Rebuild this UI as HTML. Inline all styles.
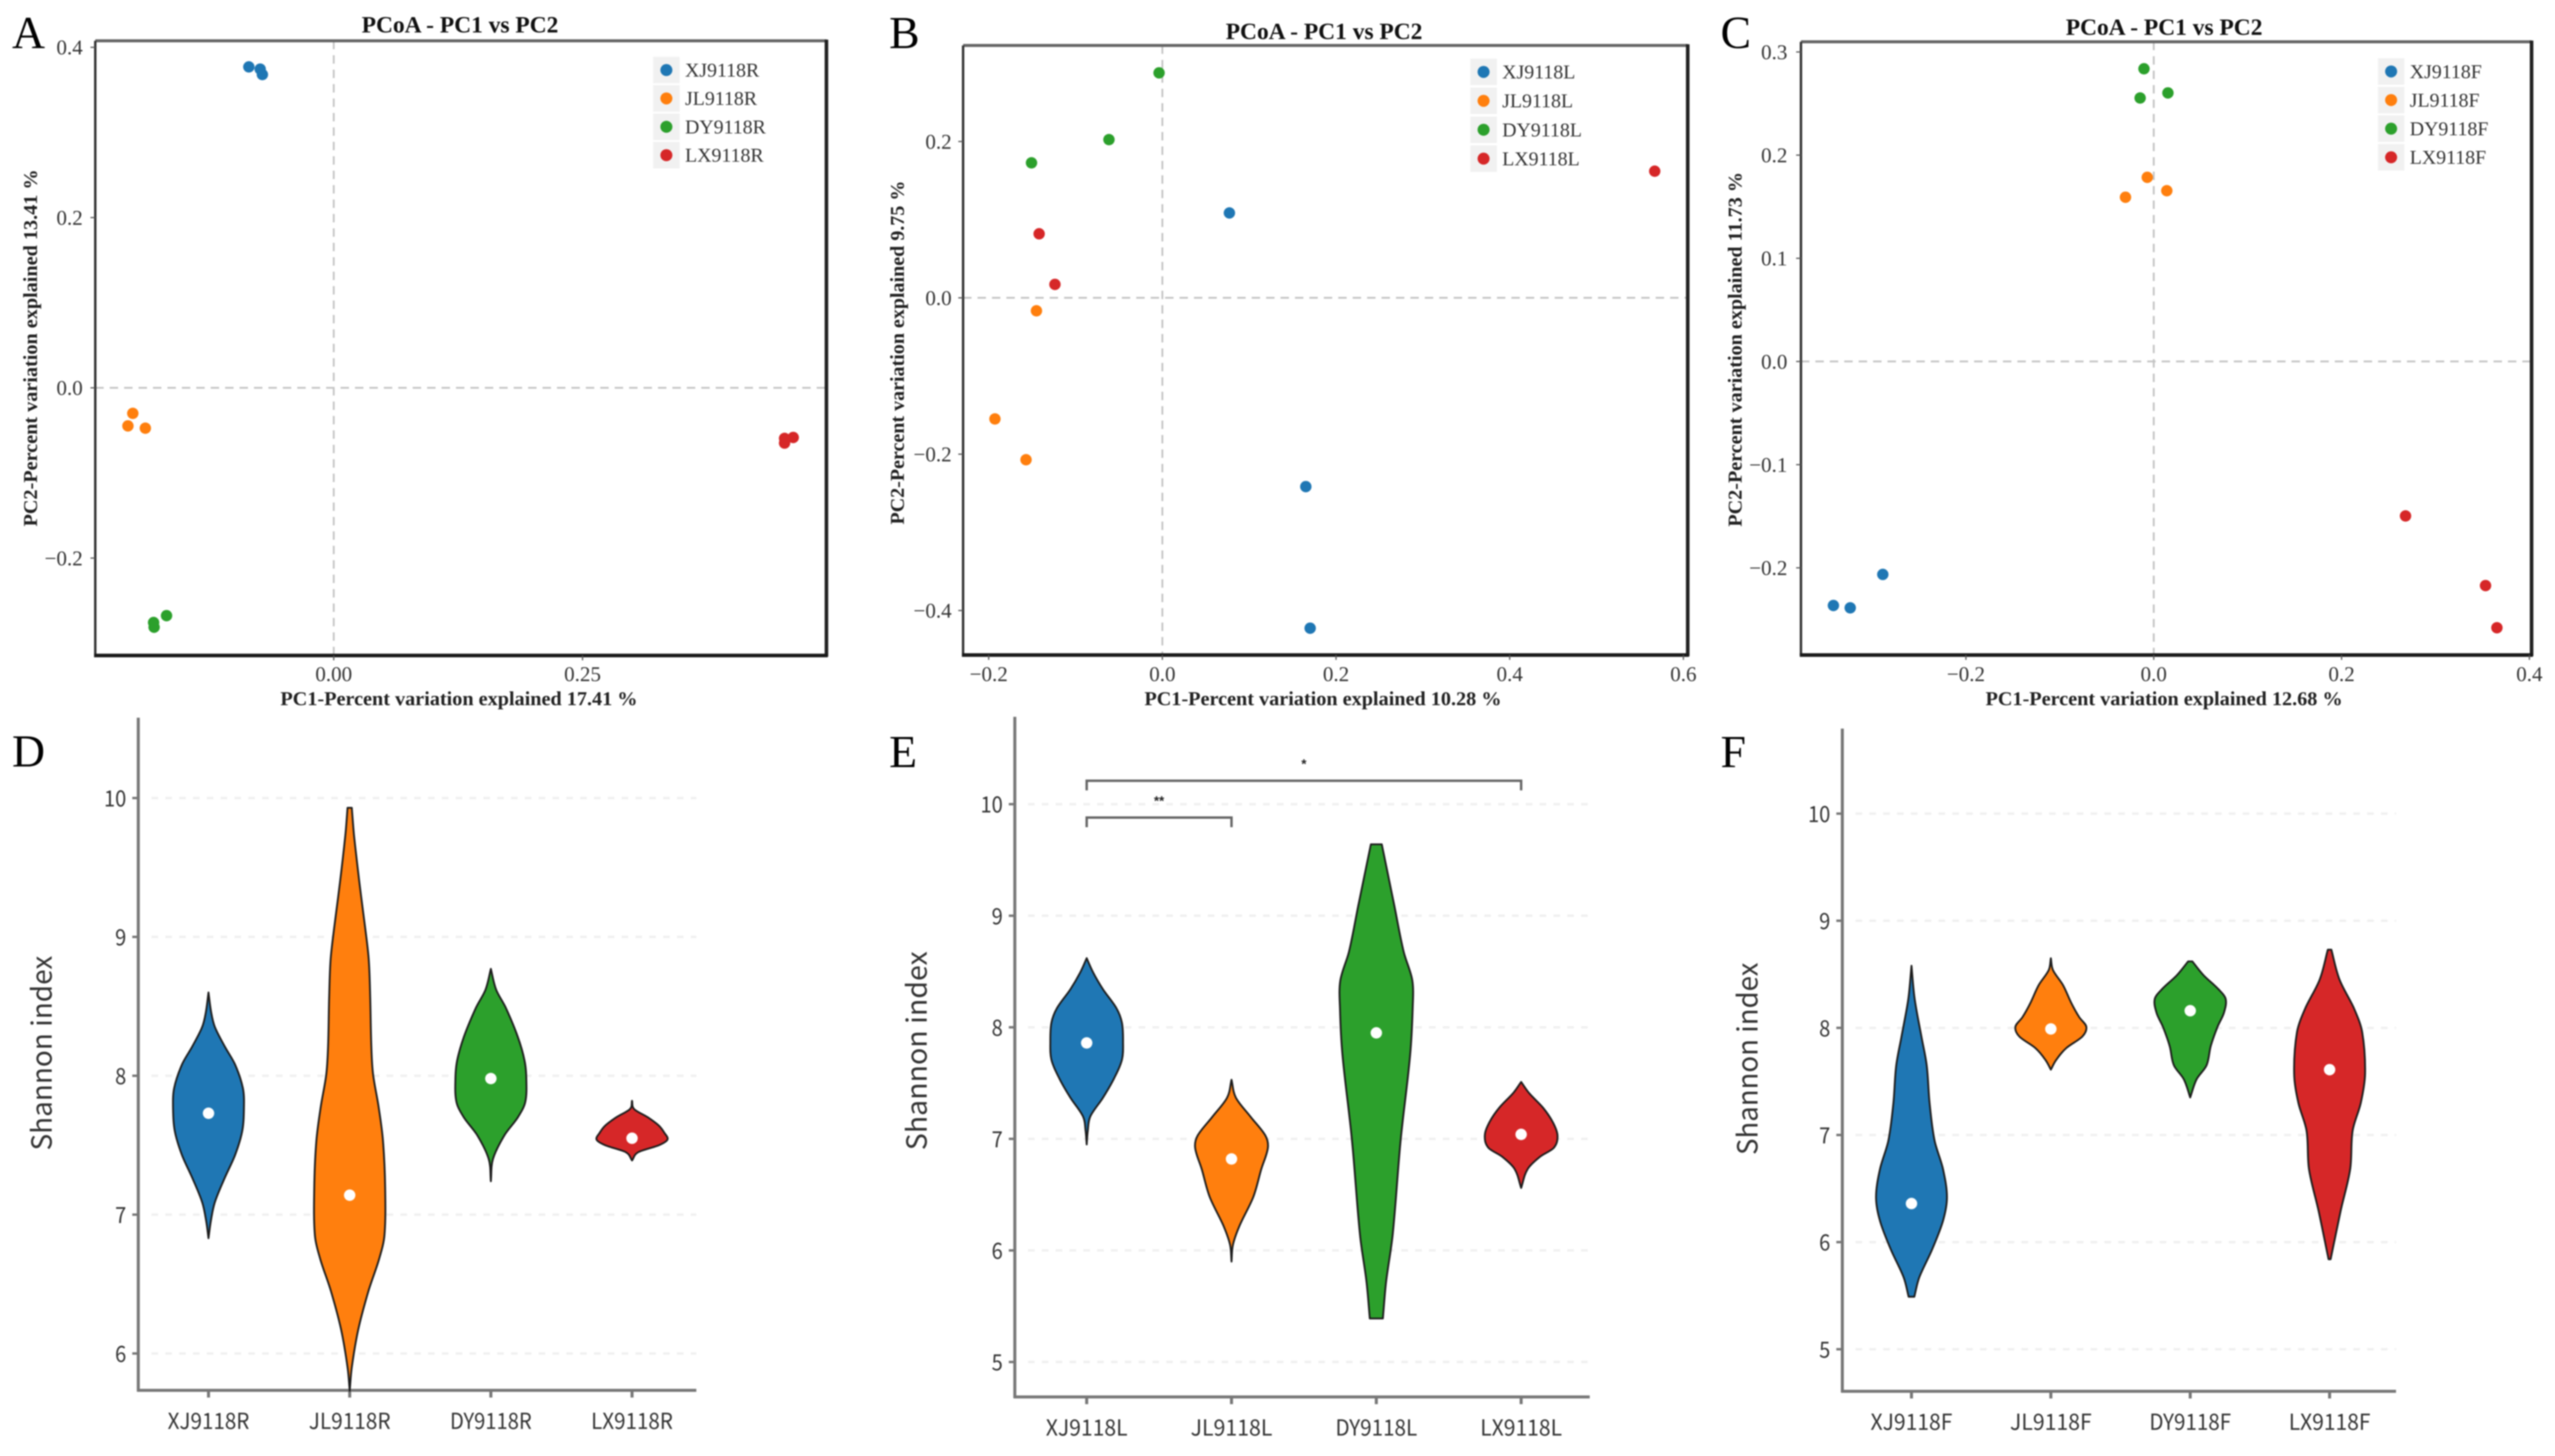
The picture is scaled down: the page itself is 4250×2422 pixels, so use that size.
<!DOCTYPE html>
<html lang="en">
<head>
<meta charset="utf-8">
<title>PCoA and Shannon index panels</title>
<style>
html,body{margin:0;padding:0;background:#fff;}
body{width:4250px;height:2422px;overflow:hidden;}
svg{display:block;}
.serif{font-family:"Liberation Serif","Noto Serif CJK SC",serif;}
.sans{font-family:"Liberation Sans","Noto Sans CJK SC",sans-serif;}
.cjk{font-family:"Noto Sans CJK SC","Liberation Sans",sans-serif;}
</style>
</head>
<body>
<svg id="figure" xmlns="http://www.w3.org/2000/svg" width="4250" height="2422" viewBox="0 0 4250 2422" style="filter:blur(1.1px)">
<rect x="0" y="0" width="4250" height="2422" fill="#ffffff"/>
<text class="serif" x="20" y="80" font-size="76" fill="#000">A</text>
<text class="serif" x="1479" y="80" font-size="76" fill="#000">B</text>
<text class="serif" x="2862" y="80" font-size="76" fill="#000">C</text>
<text class="serif" x="20" y="1275" font-size="76" fill="#000">D</text>
<text class="serif" x="1479" y="1276" font-size="76" fill="#000">E</text>
<text class="serif" x="2862" y="1276" font-size="76" fill="#000">F</text>
<g id="panel-a"></g>
<g id="panel-b"></g>
<g id="panel-c"></g>
<g id="panel-d"></g>
<g id="panel-e"></g>
<g id="panel-f"></g>
</svg>
<script>
// ---------- Chart data ----------
const seriesColors = ['#1f77b4', '#ff7f0e', '#2ca02c', '#d62728'];

// Panel A
const groupsA = ['XJ9118R', 'JL9118R', 'DY9118R', 'LX9118R'];
const pc1A = [[-0.0853, -0.0739, -0.0717], [-0.2019, -0.2068, -0.1893], [-0.168, -0.181, -0.1805], [0.453, 0.453, 0.4617]];
const pc2A = [[0.377, 0.3744, 0.368], [-0.030, -0.0447, -0.0474], [-0.2676, -0.2757, -0.2812], [-0.0594, -0.0649, -0.0583]];
const xTicksA = [0, 0.25];
const xTickLabelsA = ['0.00', '0.25'];
const yTicksA = [0.4, 0.2, 0, -0.2];
const yTickLabelsA = ['0.4', '0.2', '0.0', '−0.2'];

// Panel B
const groupsB = ['XJ9118L', 'JL9118L', 'DY9118L', 'LX9118L'];
const pc1B = [[0.0772, 0.1652, 0.1702], [-0.145, -0.1928, -0.157], [-0.0038, -0.0615, -0.1507], [-0.1419, -0.1237, 0.567]];
const pc2B = [[0.1086, -0.2415, -0.4226], [-0.0166, -0.1549, -0.2071], [0.2878, 0.2024, 0.1727], [0.0819, 0.0172, 0.1620]];
const xTicksB = [-0.2, 0, 0.2, 0.4, 0.6];
const xTickLabelsB = ['−0.2', '0.0', '0.2', '0.4', '0.6'];
const yTicksB = [0.2, 0, -0.2, -0.4];
const yTickLabelsB = ['0.2', '0.0', '−0.2', '−0.4'];

// Panel C
const groupsC = ['XJ9118F', 'JL9118F', 'DY9118F', 'LX9118F'];
const pc1C = [[-0.3411, -0.3232, -0.2885], [-0.0301, -0.0069, 0.0139], [-0.0104, -0.0145, 0.0151], [0.2681, 0.3533, 0.3654]];
const pc2C = [[-0.2365, -0.2388, -0.2064], [0.1592, 0.1785, 0.1655], [0.2837, 0.2554, 0.2603], [-0.1497, -0.2172, -0.2581]];
const xTicksC = [-0.2, 0, 0.2, 0.4];
const xTickLabelsC = ['−0.2', '0.0', '0.2', '0.4'];
const yTicksC = [0.3, 0.2, 0.1, 0, -0.1, -0.2];
const yTickLabelsC = ['0.3', '0.2', '0.1', '0.0', '−0.1', '−0.2'];

// Panel D violins: index levels and relative density per group
const levelsD = [
  [8.60, 8.45, 8.35, 8.21, 8.08, 7.91, 7.77, 7.60, 7.43, 7.26, 7.09, 6.96, 6.83],
  [9.93, 9.74, 9.40, 9.06, 8.83, 8.55, 8.21, 8.01, 7.77, 7.53, 7.19, 6.85, 6.68, 6.45, 6.17, 5.90, 5.73],
  [8.77, 8.62, 8.49, 8.28, 8.11, 7.98, 7.81, 7.70, 7.57, 7.40, 7.24],
  [7.82, 7.76, 7.70, 7.64, 7.59, 7.54, 7.50, 7.45, 7.39]
];
const densityD = [
  [0, .08, .18, .46, .75, .97, 1, .95, .75, .45, .18, .07, 0],
  [.06, .12, .27, .44, .54, .58, .61, .66, .82, .94, 1, .98, .83, .53, .24, .06, 0],
  [0, .15, .42, .76, .95, 1, .97, .76, .38, .06, 0],
  [0, .06, .45, .76, .91, 1, .76, .18, 0]
];
const mediansD = [7.73, 7.14, 7.98, 7.55];
const yTicksD = [10, 9, 8, 7, 6];

// Panel E violins
const levelsE = [
  [8.62, 8.49, 8.34, 8.17, 8.04, 7.87, 7.71, 7.54, 7.37, 7.20, 7.07, 6.95],
  [7.53, 7.37, 7.20, 7.03, 6.92, 6.73, 6.48, 6.22, 6.05, 5.90],
  [9.64, 9.10, 8.68, 8.42, 8.17, 7.75, 6.99, 6.14, 5.72, 5.39],
  [7.51, 7.41, 7.28, 7.15, 7.03, 6.92, 6.84, 6.73, 6.56]
];
const densityE = [
  [0, .18, .45, .82, .97, 1, .97, .75, .45, .10, .03, 0],
  [0, .12, .52, .93, 1, .82, .6, .22, .04, 0],
  [.15, .49, .75, .99, 1, .93, .67, .45, .27, .18],
  [0, .22, .6, .87, 1, .9, .52, .18, 0]
];
const mediansE = [7.86, 6.82, 7.95, 7.04];
const yTicksE = [10, 9, 8, 7, 6, 5];
const sigPairsE = [[0, 3], [0, 1]];
const sigHeightsE = [10.21, 9.88];
const sigLabelsE = ['*', '**'];

// Panel F violins
const levelsF = [
  [8.58, 8.27, 7.92, 7.65, 7.30, 6.95, 6.68, 6.42, 6.20, 5.93, 5.67, 5.49],
  [8.65, 8.54, 8.40, 8.23, 8.10, 8.01, 7.92, 7.81, 7.70, 7.61],
  [8.62, 8.49, 8.36, 8.27, 8.14, 8.01, 7.83, 7.65, 7.52, 7.35],
  [8.73, 8.45, 8.18, 7.96, 7.57, 7.30, 7.04, 6.68, 6.29, 5.84]
];
const densityF = [
  [0, .09, .28, .43, .51, .65, .89, 1, .89, .58, .22, .08],
  [0, .06, .34, .58, .8, 1, .89, .43, .15, 0],
  [.06, .38, .8, 1, .95, .77, .58, .46, .18, 0],
  [.05, .28, .69, .92, 1, .88, .65, .58, .31, .03]
];
const mediansF = [6.36, 7.99, 8.16, 7.61];
const yTicksF = [10, 9, 8, 7, 6, 5];

// ---------- Drawing helpers ----------
const SVGNS = 'http://www.w3.org/2000/svg';
function el(parent, tag, attrs, text) {
  const n = document.createElementNS(SVGNS, tag);
  for (const k in attrs) n.setAttribute(k, attrs[k]);
  if (text !== undefined) n.textContent = text;
  parent.appendChild(n);
  return n;
}
function linear(v0, p0, v1, p1) {
  return v => p0 + (v - v0) * (p1 - p0) / (v1 - v0);
}
// Hermite spline over y so that uneven level spacing stays smooth
function smoothPath(pts) {
  const slope = i => {
    const a = pts[Math.max(i - 1, 0)], b = pts[Math.min(i + 1, pts.length - 1)];
    return (b[0] - a[0]) / (b[1] - a[1]);
  };
  let d = '';
  for (let i = 0; i < pts.length - 1; i++) {
    const p1 = pts[i], p2 = pts[i + 1];
    const h = (p2[1] - p1[1]) / 3;
    const c1x = p1[0] + slope(i) * h, c1y = p1[1] + h;
    const c2x = p2[0] - slope(i + 1) * h, c2y = p2[1] - h;
    d += ' C' + c1x.toFixed(1) + ' ' + c1y.toFixed(1) + ' ' + c2x.toFixed(1) + ' ' + c2y.toFixed(1) + ' ' + p2[0].toFixed(1) + ' ' + p2[1].toFixed(1);
  }
  return d;
}

// ---------- PCoA scatter panels ----------
function drawScatter(cfg) {
  const g = document.getElementById(cfg.id);
  const x = linear(cfg.xA[0], cfg.xA[1], cfg.xB[0], cfg.xB[1]);
  const y = linear(cfg.yA[0], cfg.yA[1], cfg.yB[0], cfg.yB[1]);
  const f = cfg.frame;

  const vz = el(g, 'line', {x1: x(0), x2: x(0), y1: f.t, y2: f.b, stroke: '#c4c4c4', 'stroke-width': 3, 'stroke-dasharray': '14 10'});
  
  
  const hz = el(g, 'line', {x1: f.l, x2: f.r, y1: y(0), y2: y(0), stroke: '#c4c4c4', 'stroke-width': 3, 'stroke-dasharray': '14 10'});
  
  

  const top = el(g, 'line', {x1: f.l, x2: f.r, y1: f.t, y2: f.t, stroke: '#666', 'stroke-width': 5});
  
  
  const left = el(g, 'line', {x1: f.l, x2: f.l, y1: f.t, y2: f.b, stroke: '#333', 'stroke-width': 4});
  
  
  const right = el(g, 'line', {x1: f.r, x2: f.r, y1: f.t - 2, y2: f.b + 2, stroke: '#222', 'stroke-width': 6});
  
  
  const bottom = el(g, 'line', {x1: f.l - 2, x2: f.r + 2, y1: f.b, y2: f.b, stroke: '#1a1a1a', 'stroke-width': 6});
  
  

  cfg.xTicks.forEach((v, i) => {
    const t = el(g, 'line', {x1: x(v), x2: x(v), y1: f.b, y2: f.b + 8, stroke: '#555', 'stroke-width': 2});
    
    
    const l = el(g, 'text', {x: x(v), y: cfg.xTickY, 'text-anchor': 'middle', 'font-size': 35, fill: '#333', class: 'serif'}, cfg.xTickLabels[i]);
    
    
  });
  cfg.yTicks.forEach((v, i) => {
    const t = el(g, 'line', {x1: f.l - 8, x2: f.l, y1: y(v), y2: y(v), stroke: '#555', 'stroke-width': 2});
    
    
    const l = el(g, 'text', {x: cfg.yTickX, y: y(v) + 12, 'text-anchor': 'end', 'font-size': 35, fill: '#333', class: 'serif'}, cfg.yTickLabels[i]);
    
    
  });

  const title = el(g, 'text', {x: cfg.titleX, y: cfg.titleY, 'text-anchor': 'middle', 'font-size': 39, 'font-weight': 'bold', fill: '#111', class: 'serif'}, 'PCoA - PC1 vs PC2');
  
  
  const xt = el(g, 'text', {x: cfg.xLabelX, y: cfg.xLabelY, 'text-anchor': 'middle', 'font-size': 33, 'font-weight': 'bold', fill: '#222', class: 'serif', textLength: 594, lengthAdjust: 'spacingAndGlyphs'}, cfg.xLabel);
  
  
  const yt = el(g, 'text', {x: 0, y: 0, transform: 'translate(' + cfg.yLabelX + ' ' + cfg.yLabelY + ') rotate(-90)', 'text-anchor': 'middle', 'font-size': 33, 'font-weight': 'bold', fill: '#222', class: 'serif', textLength: cfg.yLabelLen, lengthAdjust: 'spacingAndGlyphs'}, cfg.yLabel);
  
  

  cfg.pc1.forEach((xs, s) => {
    xs.forEach((v, i) => {
      const c = el(g, 'circle', {cx: x(v), cy: y(cfg.pc2[s][i]), r: 9.5, fill: seriesColors[s]});
      
      
    });
  });

  cfg.groups.forEach((name, s) => {
    const ly = cfg.legY + s * cfg.legStep;
    const entry = el(g, 'g', {});
    
    
    const box = el(entry, 'rect', {x: cfg.legX - 22, y: ly - 22, width: 44, height: 44, fill: '#f1f1f1'});
    
    
    const dot = el(entry, 'circle', {cx: cfg.legX, cy: ly, r: 10, fill: seriesColors[s]});
    
    
    const tx = el(entry, 'text', {x: cfg.legX + 31, y: ly + 11, 'font-size': 33, fill: '#333', class: 'serif'}, name);
    
    
  });
}

const KX = 0.9056, KYT = 0.7717, KYB = 0.7857;
function ax(ox, z) { return ox + z * KX; }
function at(z) { return z * KYT; }
function ab(z) { return 1190 + z * KYB; }

drawScatter({
  id: 'panel-a', groups: groupsA, pc1: pc1A, pc2: pc2A,
  xTicks: xTicksA, xTickLabels: xTickLabelsA, yTicks: yTicksA, yTickLabels: yTickLabelsA,
  xA: [0, ax(0, 613)], xB: [0.25, ax(0, 1070)], yA: [0, at(836)], yB: [0.2, at(469)],
  frame: {l: ax(0, 175), r: ax(0, 1518), t: at(88), b: at(1413)},
  xTickY: at(1468), yTickX: ax(0, 152),
  titleX: ax(0, 845), titleY: at(70),
  xLabel: 'PC1-Percent variation explained 17.41 %', xLabelX: ax(0, 843), xLabelY: at(1520),
  yLabel: 'PC2-Percent variation explained 13.41 %', yLabelX: ax(0, 68), yLabelY: at(750), yLabelLen: 594,
  legX: ax(0, 1224), legY: at(151), legStep: 47.2
});
drawScatter({
  id: 'panel-b', groups: groupsB, pc1: pc1B, pc2: pc2B,
  xTicks: xTicksB, xTickLabels: xTickLabelsB, yTicks: yTicksB, yTickLabels: yTickLabelsB,
  xA: [0, ax(1420, 567)], xB: [0.2, ax(1420, 886)], yA: [0, at(642)], yB: [0.2, at(305)],
  frame: {l: ax(1420, 201), r: ax(1420, 1532), t: at(98), b: at(1412)},
  xTickY: at(1468), yTickX: ax(1420, 180),
  titleX: ax(1420, 864), titleY: at(84),
  xLabel: 'PC1-Percent variation explained 10.28 %', xLabelX: ax(1420, 862), xLabelY: at(1520),
  yLabel: 'PC2-Percent variation explained 9.75 %', yLabelX: ax(1420, 92), yLabelY: at(760), yLabelLen: 572,
  legX: ax(1420, 1157), legY: at(155), legStep: 48.1
});
drawScatter({
  id: 'panel-c', groups: groupsC, pc1: pc1C, pc2: pc2C,
  xTicks: xTicksC, xTickLabels: xTickLabelsC, yTicks: yTicksC, yTickLabels: yTickLabelsC,
  xA: [0, ax(2830, 831)], xB: [0.4, ax(2830, 1521)], yA: [0.3, at(112)], yB: [-0.2, at(1224)],
  frame: {l: ax(2830, 183), r: ax(2830, 1525), t: at(90), b: at(1412)},
  xTickY: at(1468), yTickX: ax(2830, 158),
  titleX: ax(2830, 850), titleY: at(75),
  xLabel: 'PC1-Percent variation explained 12.68 %', xLabelX: ax(2830, 850), xLabelY: at(1520),
  yLabel: 'PC2-Percent variation explained 11.73 %', yLabelX: ax(2830, 74), yLabelY: at(753), yLabelLen: 590,
  legX: ax(2830, 1267), legY: at(154), legStep: 47.6
});

// ---------- Shannon violin panels ----------
function drawViolins(cfg) {
  const g = document.getElementById(cfg.id);
  const x = i => cfg.x0 + i * cfg.xStep;
  const y = linear(cfg.yA[0], cfg.yA[1], cfg.yB[0], cfg.yB[1]);

  cfg.yTicks.forEach(v => {
    const gl = el(g, 'line', {x1: cfg.axisX + 22, x2: cfg.right, y1: y(v), y2: y(v), stroke: '#f0f0f0', 'stroke-width': 4, 'stroke-dasharray': '11 12'});
    
    
    const t = el(g, 'line', {x1: cfg.axisX - 10, x2: cfg.axisX, y1: y(v), y2: y(v), stroke: '#777', 'stroke-width': 4});
    
    
    const l = el(g, 'text', {x: cfg.axisX - 20, y: y(v) + 14, 'text-anchor': 'end', 'font-size': 37, fill: '#333', class: 'cjk', textLength: String(v).length * 18.5, lengthAdjust: 'spacingAndGlyphs'}, String(v));
    
    
  });

  const ya = el(g, 'line', {x1: cfg.axisX, x2: cfg.axisX, y1: cfg.top, y2: cfg.bottom + 2, stroke: '#777', 'stroke-width': 5});
  
  
  const xa = el(g, 'line', {x1: cfg.axisX - 2, x2: cfg.right, y1: cfg.bottom, y2: cfg.bottom, stroke: '#777', 'stroke-width': 5});
  
  

  cfg.groups.forEach((name, s) => {
    const cx = x(s);
    const t = el(g, 'line', {x1: cx, x2: cx, y1: cfg.bottom, y2: cfg.bottom + 12, stroke: '#777', 'stroke-width': 5});
    
    
    const l = el(g, 'text', {x: cx, y: cfg.bottom + 64, 'text-anchor': 'middle', 'font-size': 37, fill: '#333', class: 'cjk', textLength: 136, lengthAdjust: 'spacingAndGlyphs'}, name);
    
    

    const lv = cfg.levels[s], dn = cfg.density[s];
    const rightSide = lv.map((v, i) => [cx + dn[i] * cfg.halfWidth, y(v)]);
    const leftSide = lv.map((v, i) => [cx - dn[i] * cfg.halfWidth, y(v)]).reverse();
    const d = 'M' + rightSide[0][0].toFixed(1) + ' ' + rightSide[0][1].toFixed(1) + smoothPath(rightSide) +
      ' L' + leftSide[0][0].toFixed(1) + ' ' + leftSide[0][1].toFixed(1) + smoothPath(leftSide) + ' Z';
    const v = el(g, 'path', {d: d, fill: seriesColors[s], stroke: '#1c1c1c', 'stroke-width': 3, 'stroke-linejoin': 'round'});
    
    
    const m = el(g, 'circle', {cx: cx, cy: y(cfg.medians[s]), r: 9.5, fill: '#fff'});
    
    
  });

  const yt = el(g, 'text', {x: 0, y: 0, transform: 'translate(' + cfg.yLabelX + ' ' + cfg.yLabelY + ') rotate(-90)', 'text-anchor': 'middle', 'font-size': 46, fill: '#333', class: 'cjk', textLength: cfg.yLabelLen, lengthAdjust: 'spacingAndGlyphs'}, 'Shannon index');
  
  

  (cfg.sigPairs || []).forEach((pair, i) => {
    const by = y(cfg.sigHeights[i]);
    const x1 = x(pair[0]), x2 = x(pair[1]);
    const b = el(g, 'path', {d: 'M' + x1 + ' ' + (by + 16) + ' V' + by + ' H' + x2 + ' V' + (by + 16), fill: 'none', stroke: '#666', 'stroke-width': 4});
    
    
    const st = el(g, 'text', {x: (x1 + x2) / 2, y: by - 20, 'text-anchor': 'middle', 'font-size': 22, 'font-weight': 'bold', fill: '#222', class: 'sans'}, cfg.sigLabels[i]);
    
    
  });
}

drawViolins({
  id: 'panel-d', groups: groupsA, levels: levelsD, density: densityD, medians: mediansD, yTicks: yTicksD,
  x0: ax(0, 383), xStep: 259.3 * KX, yA: [10, ab(175)], yB: [6, ab(1351)],
  axisX: ax(0, 254), top: ab(5), bottom: ab(1429), right: ax(0, 1279), halfWidth: 59,
  yLabelX: ax(0, 95), yLabelY: ab(715), yLabelLen: 324
});
drawViolins({
  id: 'panel-e', groups: groupsB, levels: levelsE, density: densityE, medians: mediansE, yTicks: yTicksE,
  x0: ax(1420, 428), xStep: 266 * KX, yA: [10, ab(188)], yB: [5, ab(1369)],
  axisX: ax(1420, 296), top: ab(3), bottom: ab(1443), right: ax(1420, 1352), halfWidth: 60.5,
  yLabelX: ax(1420, 134), yLabelY: ab(710), yLabelLen: 331,
  sigPairs: sigPairsE, sigHeights: sigHeightsE, sigLabels: sigLabelsE
});
drawViolins({
  id: 'panel-f', groups: groupsC, levels: levelsF, density: densityF, medians: mediansF, yTicks: yTicksF,
  x0: ax(2830, 386), xStep: 256 * KX, yA: [10, ab(208)], yB: [5, ab(1342)],
  axisX: ax(2830, 259), top: ab(28), bottom: ab(1431), right: ax(2830, 1276), halfWidth: 59,
  yLabelX: ax(2830, 103), yLabelY: ab(727), yLabelLen: 320
});
</script>
</body>
</html>
